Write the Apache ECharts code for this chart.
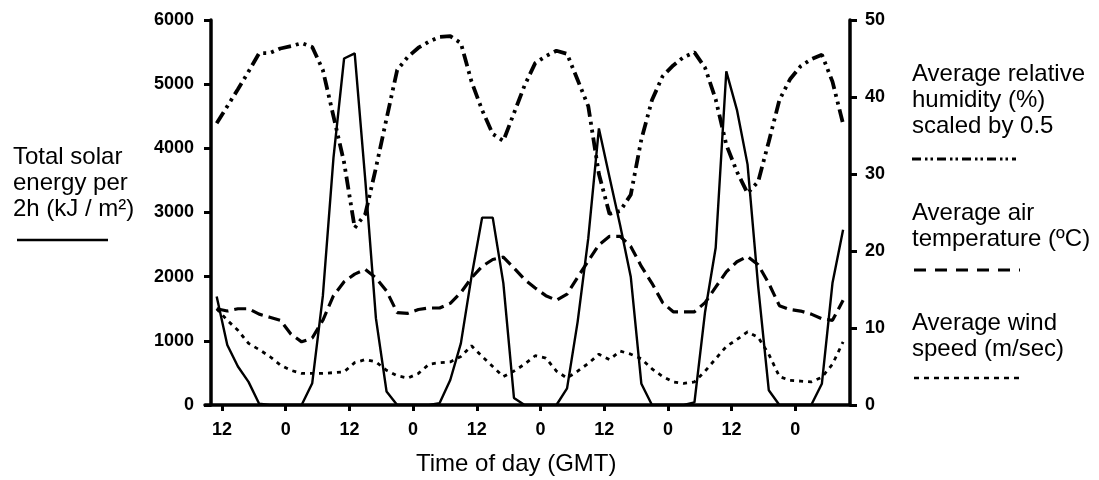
<!DOCTYPE html>
<html>
<head>
<meta charset="utf-8">
<script src="https://cdn.jsdelivr.net/npm/echarts@6/dist/echarts.min.js"></script>
<style>
html,body{margin:0;padding:0;background:#fff;}
#c{width:1099px;height:480px;}
</style>
</head>
<body>
<div id="c"></div>
<script>
// Hour of each 2-hour average (hours since 0 GMT of day 1)
var hours = [11,13,15,17,19,21,23,25,27,29,31,33,35,37,39,41,43,45,47,49,
             51,53,55,57,59,61,63,65,67,69,71,73,75,77,79,81,83,85,87,89,
             91,93,95,97,99,101,103,105,107,109,111,113,115,117,119,121,123,125,127,129];
// Total solar energy per 2h (kJ / m2) - left axis
var solar = [1690,935,600,360,20,0,0,0,0,340,1700,3850,5400,5480,3500,1350,210,0,0,0,
             0,30,390,960,2000,2920,2920,1900,110,0,0,0,0,260,1300,2600,4310,3550,2800,2000,
             330,0,0,0,0,40,1450,2450,5200,4600,3750,1850,230,0,0,0,0,330,1900,2730];
// Average relative humidity (%) scaled by 0.5 - right axis
var humidity = [36.6,38.8,41.0,43.3,45.7,45.7,46.3,46.6,47.0,46.5,43.5,37.5,31.5,23.0,24.8,30.8,37.2,43.5,45.2,46.4,
                47.2,47.8,47.9,47.0,42.0,38.3,35.2,34.3,37.9,41.5,44.4,45.3,46.0,45.6,42.2,38.8,30.0,24.8,25.2,27.3,
                34.5,39.6,42.7,44.1,45.2,45.8,43.8,39.7,33.8,30.3,27.5,29.0,34.2,39.6,42.3,44.0,44.9,45.5,42.0,36.5];
// Average air temperature (deg C) - right axis
var temperature = [12.5,12.2,12.5,12.5,11.8,11.4,11.0,9.2,8.2,8.7,11.0,14.2,16.0,17.0,17.6,16.5,14.8,12.0,11.9,12.4,
                   12.6,12.6,13.2,14.6,16.5,18.0,18.9,19.2,17.8,16.3,15.2,14.2,13.6,14.4,16.6,18.7,20.8,21.9,21.9,20.6,
                   18.0,15.8,13.3,12.1,12.1,12.1,13.3,15.3,17.3,18.6,19.3,18.2,15.8,12.9,12.4,12.2,11.8,11.2,11.0,13.6];
// Average wind speed (m/sec) - right axis
var wind = [12.5,11.0,9.7,8.0,7.2,6.3,5.2,4.5,4.1,4.1,4.1,4.2,4.3,5.5,5.9,5.6,4.5,3.8,3.5,4.1,
            5.3,5.5,5.6,6.3,7.7,6.3,5.0,3.7,4.4,5.3,6.4,6.1,4.4,3.5,4.4,5.4,6.6,5.9,7.0,6.6,
            6.0,4.7,3.7,3.0,2.8,3.0,4.4,6.0,7.6,8.5,9.5,8.8,6.6,3.7,3.2,3.1,3.0,3.6,5.3,8.2];
// x tick positions (hours) and their labels
var tickHours = [12,24,36,48,60,72,84,96,108,120];
var tickLabels = ['12','0','12','0','12','0','12','0','12','0'];

function pairs(vals){ return vals.map(function(v,i){ return [hours[i], v]; }); }

var FONT = '"Liberation Sans", Arial, sans-serif';
var chart = echarts.init(document.getElementById('c'), null, {renderer:'canvas'});

function legendLine(x1, x2, y, dash, w){
  return {type:'line', shape:{x1:x1,y1:y,x2:x2,y2:y},
          style:{stroke:'#000', lineWidth:w, lineDash:dash}};
}
function txt(x, y, s){
  return {type:'text', left:x, top:y,
          style:{text:s, font:'24px ' + FONT, fill:'#000', lineHeight:26}};
}

var option = {
  backgroundColor:'#fff',
  animation:false,
  grid:{left:205, right:249, top:20, bottom:75, containLabel:false},
  xAxis:{
    type:'value', min:8.8, max:130.3,
    splitLine:{show:false},
    axisLine:{show:true, onZero:false, lineStyle:{color:'#000', width:3.5}},
    axisTick:{show:true, customValues:tickHours, length:6, lineStyle:{color:'#000', width:3}},
    axisLabel:{show:true, customValues:tickHours, margin:16,
      formatter:function(v){ var k = tickHours.indexOf(v); return k>=0 ? tickLabels[k] : ''; },
      color:'#000', fontWeight:'bold', fontSize:18, fontFamily:FONT}
  },
  yAxis:[
    {type:'value', min:0, max:6000, interval:1000, position:'left', offset:-6,
     splitLine:{show:false},
     axisLine:{show:true, lineStyle:{color:'#000', width:3.5}},
     axisTick:{show:true, length:7, lineStyle:{color:'#000', width:3}},
     axisLabel:{margin:17, color:'#000', fontWeight:'bold', fontSize:18, fontFamily:FONT,
       formatter:function(v){ return String(v); }}},
    {type:'value', min:0, max:50, interval:10, position:'right',
     splitLine:{show:false},
     axisLine:{show:true, lineStyle:{color:'#000', width:3.5}},
     axisTick:{show:true, length:7, lineStyle:{color:'#000', width:3}},
     axisLabel:{margin:15, color:'#000', fontWeight:'bold', fontSize:18, fontFamily:FONT,
       formatter:function(v){ return String(v); }}}
  ],
  series:[
    {name:'Total solar energy', type:'line', yAxisIndex:0, data:pairs(solar),
     showSymbol:false, lineStyle:{color:'#000', width:2.4, type:'solid'}, z:3},
    {name:'Humidity', type:'line', yAxisIndex:1, data:pairs(humidity),
     showSymbol:false, lineStyle:{color:'#000', width:3.8, type:[13,5,3,5,3,5], cap:'butt'}, z:2},
    {name:'Temperature', type:'line', yAxisIndex:1, data:pairs(temperature),
     showSymbol:false, lineStyle:{color:'#000', width:3.2, type:[12,6], cap:'butt'}, z:2},
    {name:'Wind', type:'line', yAxisIndex:1, data:pairs(wind),
     showSymbol:false, lineStyle:{color:'#000', width:2.8, type:[4,5], cap:'butt'}, z:2}
  ],
  graphic:[
    txt(13, 144, 'Total solar\nenergy per\n2h (kJ / m²)'),
    legendLine(17, 108, 240, null, 2.5),
    {type:'text', left:416, top:452, style:{text:'Time of day (GMT)', font:'24px ' + FONT, fill:'#000'}},
    txt(912, 61, 'Average relative\nhumidity (%)\nscaled by 0.5'),
    legendLine(912, 1016, 159, [9,4,2.5,3,2.5,4], 3),
    txt(912, 200, 'Average air\ntemperature (ºC)'),
    legendLine(914, 1020, 270, [12,9], 3),
    txt(912, 310, 'Average wind\nspeed (m/sec)'),
    legendLine(914, 1024, 378, [5,5], 2.5)
  ]
};
chart.setOption(option);
</script>
</body>
</html>
